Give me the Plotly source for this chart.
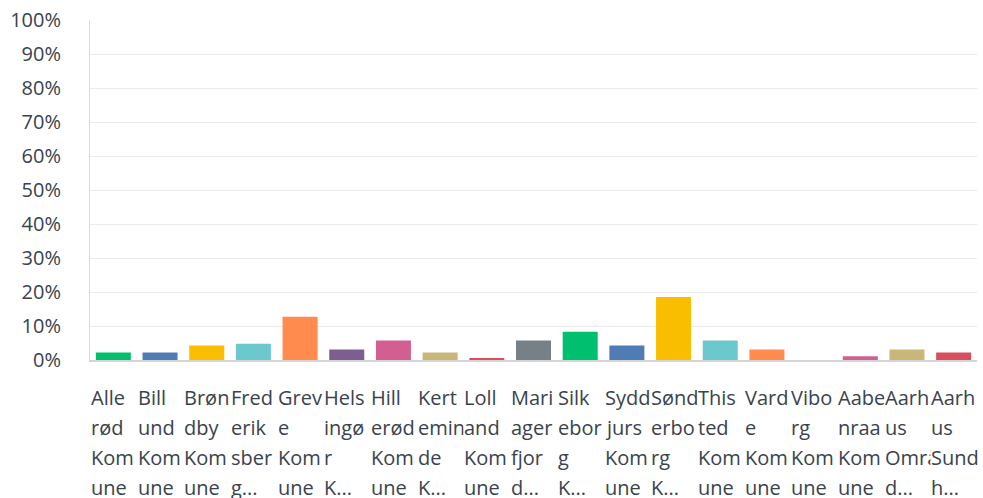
import plotly.graph_objects as go

categories = [
    "Allerød Kommune", "Billund Kommune", "Brøndby Kommune", "Frederiksberg Kommune",
    "Greve Kommune", "Helsingør Kommune", "Hillerød Kommune", "Kerteminde Kommune",
    "Lolland Kommune", "Mariagerfjord Kommune", "Silkeborg Kommune", "Syddjurs Kommune",
    "Sønderborg Kommune", "Thisted Kommune", "Varde Kommune", "Viborg Kommune",
    "Aabenraa Kommune", "Aarhus Område", "Aarhus Sundhed",
]
values = [2.2, 2.2, 4.3, 4.8, 12.7, 3.1, 5.7, 2.2, 0.5, 5.7,
          8.3, 4.3, 18.5, 5.7, 3.1, 0.0, 1.1, 3.1, 2.2]
label_lines = [
    ["Alle", "rød", "Kom", "une"],
    ["Bill", "und", "Kom", "une"],
    ["Brøn", "dby", "Kom", "une"],
    ["Fred", "erik", "sber", "g..."],
    ["Grev", "e", "Kom", "une"],
    ["Hels", "ingø", "r", "K..."],
    ["Hill", "erød", "Kom", "une"],
    ["Kert", "emin", "de", "K..."],
    ["Loll", "and", "Kom", "une"],
    ["Mari", "ager", "fjor", "d..."],
    ["Silk", "ebor", "g", "K..."],
    ["Sydd", "jurs", "Kom", "une"],
    ["Sønd", "erbo", "rg", "K..."],
    ["This", "ted", "Kom", "une"],
    ["Vard", "e", "Kom", "une"],
    ["Vibo", "rg", "Kom", "une"],
    ["Aabe", "nraa", "Kom", "une"],
    ["Aarh", "us", "Områ", "d..."],
    ["Aarh", "us", "Sund", "h..."],
]
y_ticks = list(range(0, 101, 10))
y_tick_labels = [f"{v}%" for v in y_ticks]

palette = ["#00BF6F", "#507CB6", "#F9BE00", "#6BC8CD", "#FF8B4F",
           "#7D5E90", "#D25F90", "#C9B77A", "#D84E5E", "#768086"]
colors = [palette[i % len(palette)] for i in range(len(categories))]

FONT = "Open Sans"
TEXT_COLOR = "#39434d"

fig = go.Figure(go.Bar(
    x=list(range(len(categories))),
    y=values,
    marker=dict(color=colors, line=dict(width=0)),
    hovertext=categories,
    hoverinfo="text+y",
))

annotations = []
for i, lines in enumerate(label_lines):
    for j, line in enumerate(lines):
        annotations.append(dict(
            x=i - 0.5, xref="x", xanchor="left", xshift=0,
            y=0, yref="paper", yanchor="middle",
            yshift=-(37 + 30 * j),
            text=line, showarrow=False, align="left",
            bgcolor="white", borderpad=0,
            font=dict(family=FONT, size=20, color=TEXT_COLOR),
        ))

fig.update_layout(
    width=983, height=498, autosize=False,
    margin=dict(l=90, r=6, t=15, b=138),
    paper_bgcolor="white", plot_bgcolor="white",
    bargap=0.25,
    showlegend=False,
    font=dict(family=FONT, color=TEXT_COLOR),
    annotations=annotations,
    xaxis=dict(
        range=[-0.5, len(categories) - 0.5],
        showticklabels=False, showgrid=False, zeroline=False,
        showline=True, linecolor="#d4d4d4", linewidth=2,
        ticks="", fixedrange=True,
    ),
    yaxis=dict(
        range=[0, 100],
        tickvals=y_ticks, ticktext=y_tick_labels,
        showgrid=True, gridcolor="#ebebeb", gridwidth=1,
        zeroline=False,
        showline=True, linecolor="#d9d9d9", linewidth=1,
        ticks="", ticklabelstandoff=24,
        tickfont=dict(family=FONT, size=20, color=TEXT_COLOR),
        ticklabeloverflow="allow",
        fixedrange=True,
    ),
)

fig.write_html(
    "out.html",
    config={"displayModeBar": False},
    post_script="document.body.style.margin='0';document.body.style.overflow='hidden';",
)
